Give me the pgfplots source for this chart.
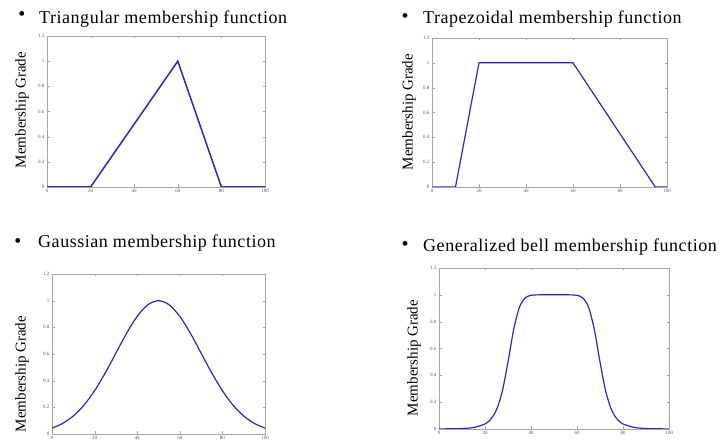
\documentclass[border=0pt]{standalone}
\usepackage{pgfplots}
\pgfplotsset{compat=1.18}
\usepackage{fontspec}
\setmainfont{Liberation Serif}
\newfontfamily\titlefont[LetterSpace=3]{Liberation Serif}
\definecolor{mfblue}{RGB}{40,40,195}
\pgfplotsset{
  mfaxis/.style={
    scale only axis,
    anchor=south west,
    xmin=0, xmax=100, ymin=0, ymax=1.2,
    xtick={0,20,40,60,80,100},
    ytick={0,0.2,0.4,0.6,0.8,1,1.2},
    axis line style={gray!70},
    tick style={gray!70},
    major tick length=2.5pt,
    tick align=inside,
    ticklabel style={font=\fontsize{5}{5}\selectfont, text=gray!70!black},
    xticklabel style={yshift=1pt},
    yticklabel style={xshift=1pt},
    /pgf/number format/assume math mode=true,
  }
}
\begin{document}
\begin{tikzpicture}[x=1pt,y=1pt]
\useasboundingbox (0pt,0pt) rectangle (726pt,443pt);

% Panel 1: triangular
\node[anchor=center, font=\fontsize{20}{20}\selectfont] at (22pt,427pt) {•};
\node[anchor=base west, inner sep=0pt, font=\titlefont\fontsize{18}{18}\selectfont] at (39pt,419pt) {Triangular membership function};
\node[rotate=90, font=\fontsize{15}{15}\selectfont] at (22pt,333pt) {Membership Grade};
\begin{axis}[mfaxis, at={(47pt,256pt)}, width=218pt, height=151pt]
\addplot[mfblue, line width=1.5pt] coordinates {(0,0) (20,0) (60,1) (80,0) (100,0)};
\end{axis}

% Panel 2: trapezoidal
\node[anchor=center, font=\fontsize{20}{20}\selectfont] at (405pt,425pt) {•};
\node[anchor=base west, inner sep=0pt, font=\titlefont\fontsize{18}{18}\selectfont] at (423pt,419pt) {Trapezoidal membership function};
\node[rotate=90, font=\fontsize{15}{15}\selectfont] at (409pt,331pt) {Membership Grade};
\begin{axis}[mfaxis, at={(432pt,256pt)}, width=235pt, height=149pt]
\addplot[mfblue, line width=1.2pt] coordinates {(0,0) (10,0) (20,1) (60,1) (95,0) (100,0)};
\end{axis}

% Panel 3: gaussian
\node[anchor=center, font=\fontsize{20}{20}\selectfont] at (18pt,200pt) {•};
\node[anchor=base west, inner sep=0pt, font=\titlefont\fontsize{18}{18}\selectfont] at (38pt,195pt) {Gaussian membership function};
\node[rotate=90, font=\fontsize{15}{15}\selectfont] at (22pt,69pt) {Membership Grade};
\begin{axis}[mfaxis, at={(52pt,9pt)}, width=213pt, height=160pt]
\addplot[mfblue, line width=1.2pt, smooth] coordinates {
(0,0.0439) (5,0.0796) (10,0.1353) (15,0.2163) (20,0.3247) (25,0.4578)
(30,0.6065) (35,0.7548) (40,0.8825) (45,0.9692) (50,1.0000)
(55,0.9692) (60,0.8825) (65,0.7548) (70,0.6065) (75,0.4578)
(80,0.3247) (85,0.2163) (90,0.1353) (95,0.0796) (100,0.0439)};
\end{axis}

% Panel 4: generalized bell
\node[anchor=center, font=\fontsize{20}{20}\selectfont] at (405pt,197pt) {•};
\node[anchor=base west, inner sep=0pt, font=\titlefont\fontsize{18}{18}\selectfont] at (423pt,191pt) {Generalized bell membership function};
\node[rotate=90, font=\fontsize{15}{15}\selectfont] at (414pt,85pt) {Membership Grade};
\begin{axis}[mfaxis, at={(439pt,14pt)}, width=230pt, height=161pt]
\addplot[mfblue, line width=1.2pt, smooth] coordinates {
(0,0.0007) (5,0.0015) (10,0.0039) (15,0.0112) (20,0.0376) (22.5,0.0725)
(25,0.1437) (27.5,0.2804) (30,0.5) (32.5,0.7443) (35,0.9090) (37.5,0.9773)
(40,0.9961) (42.5,0.9996) (45,1.0000) (50,1.0000) (55,1.0000) (57.5,0.9996)
(60,0.9961) (62.5,0.9773) (65,0.9090) (67.5,0.7443) (70,0.5) (72.5,0.2804)
(75,0.1437) (77.5,0.0725) (80,0.0376) (85,0.0112) (90,0.0039) (95,0.0015) (100,0.0007)};
\end{axis}
\end{tikzpicture}
\end{document}
